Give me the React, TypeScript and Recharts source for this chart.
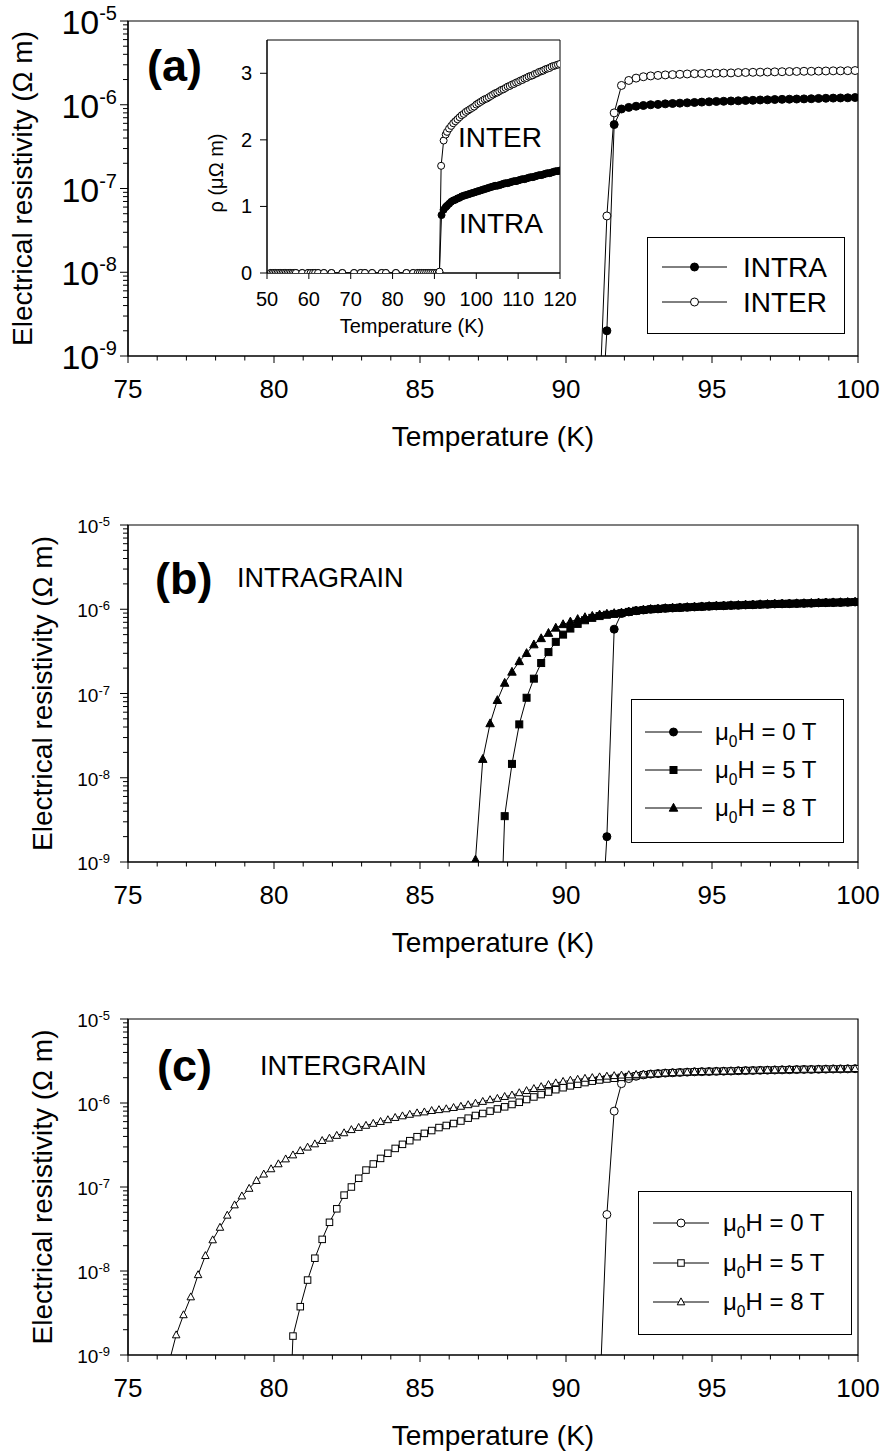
import type { ReactNode } from 'react';
import { Customized, Legend, Line, LineChart, ReferenceArea, XAxis, YAxis } from 'recharts';

const FONT = '"Liberation Sans", Arial, Helvetica, sans-serif';

// [temperature (K), resistivity (Ω m)]
// zero field (panel a; reused as the 0 T curves of b and c)
const INTRA_0T_RISE = [[91.15, 7e-11], [91.4, 2.0e-9], [91.65, 5.8e-7], [91.9, 8.9e-7], [92.15, 9.3e-7]];
const INTRA_TAIL = [
  [92.4, 9.6e-7], [92.65, 9.8e-7], [92.9, 1.0e-6], [93.15, 1.01e-6], [93.4, 1.025e-6], [93.65, 1.035e-6],
  [93.9, 1.045e-6], [94.15, 1.055e-6], [94.4, 1.065e-6], [94.65, 1.075e-6], [94.9, 1.085e-6], [95.15, 1.095e-6],
  [95.4, 1.1e-6], [95.65, 1.11e-6], [95.9, 1.115e-6], [96.15, 1.125e-6], [96.4, 1.13e-6], [96.65, 1.14e-6],
  [96.9, 1.145e-6], [97.15, 1.155e-6], [97.4, 1.16e-6], [97.65, 1.165e-6], [97.9, 1.17e-6], [98.15, 1.175e-6],
  [98.4, 1.18e-6], [98.65, 1.19e-6], [98.9, 1.195e-6], [99.15, 1.2e-6], [99.4, 1.205e-6], [99.65, 1.21e-6],
  [99.9, 1.22e-6],
];
const INTER_0T_RISE = [
  [91.15, 3e-10], [91.4, 4.7e-8], [91.65, 8.0e-7], [91.9, 1.7e-6], [92.15, 1.95e-6], [92.4, 2.08e-6], [92.65, 2.16e-6],
];
const INTER_TAIL = [
  [92.9, 2.21e-6], [93.15, 2.24e-6], [93.4, 2.27e-6], [93.65, 2.29e-6], [93.9, 2.31e-6], [94.15, 2.33e-6],
  [94.4, 2.35e-6], [94.65, 2.36e-6], [94.9, 2.37e-6], [95.15, 2.38e-6], [95.4, 2.39e-6], [95.65, 2.4e-6],
  [95.9, 2.42e-6], [96.15, 2.43e-6], [96.4, 2.44e-6], [96.65, 2.45e-6], [96.9, 2.46e-6], [97.15, 2.47e-6],
  [97.4, 2.48e-6], [97.65, 2.49e-6], [97.9, 2.5e-6], [98.15, 2.51e-6], [98.4, 2.51e-6], [98.65, 2.52e-6],
  [98.9, 2.53e-6], [99.15, 2.54e-6], [99.4, 2.54e-6], [99.65, 2.55e-6], [99.9, 2.56e-6],
];

// panel b, intragrain in field
const INTRA_5T_RISE = [
  [87.65, 1e-11], [87.9, 3.5e-9], [88.15, 1.46e-8], [88.4, 4.3e-8], [88.65, 8.9e-8], [88.9, 1.5e-7],
  [89.15, 2.3e-7], [89.4, 3.1e-7], [89.65, 4.1e-7], [89.9, 5.0e-7], [90.15, 5.9e-7], [90.4, 6.7e-7],
  [90.65, 7.4e-7], [90.9, 7.9e-7], [91.15, 8.3e-7], [91.4, 8.6e-7], [91.65, 8.8e-7], [91.9, 9.0e-7], [92.15, 9.3e-7],
];
const INTRA_8T_RISE = [
  [86.65, 1e-11], [86.9, 1.06e-9], [87.15, 1.66e-8], [87.4, 4.4e-8], [87.65, 8.3e-8], [87.9, 1.33e-7],
  [88.15, 1.8e-7], [88.4, 2.4e-7], [88.65, 3.0e-7], [88.9, 3.8e-7], [89.15, 4.5e-7], [89.4, 5.2e-7],
  [89.65, 6.0e-7], [89.9, 6.6e-7], [90.15, 7.1e-7], [90.4, 7.6e-7], [90.65, 8.0e-7], [90.9, 8.3e-7],
  [91.15, 8.6e-7], [91.4, 8.8e-7], [91.65, 8.95e-7], [91.9, 9.1e-7], [92.15, 9.35e-7],
];

// panel c, intergrain in field
const INTER_5T_RISE = [
  [80.4, 1e-11], [80.65, 1.68e-9], [80.9, 3.76e-9], [81.15, 7.8e-9], [81.4, 1.42e-8], [81.65, 2.38e-8],
  [81.9, 3.8e-8], [82.15, 5.5e-8], [82.4, 8.0e-8], [82.65, 1.0e-7], [82.9, 1.27e-7], [83.15, 1.59e-7],
  [83.4, 1.88e-7], [83.65, 2.19e-7], [83.9, 2.52e-7], [84.15, 2.88e-7], [84.4, 3.22e-7], [84.65, 3.56e-7],
  [84.9, 3.97e-7], [85.15, 4.35e-7], [85.4, 4.7e-7], [85.65, 5.1e-7], [85.9, 5.4e-7], [86.15, 5.7e-7],
  [86.4, 6.1e-7], [86.65, 6.6e-7], [86.9, 7.1e-7], [87.15, 7.5e-7], [87.4, 8.0e-7], [87.65, 8.5e-7],
  [87.9, 9.0e-7], [88.15, 9.6e-7], [88.4, 1.02e-6], [88.65, 1.1e-6], [88.9, 1.18e-6], [89.15, 1.26e-6],
  [89.4, 1.35e-6], [89.65, 1.44e-6], [89.9, 1.52e-6], [90.15, 1.6e-6], [90.4, 1.67e-6], [90.65, 1.75e-6],
  [90.9, 1.82e-6], [91.15, 1.88e-6], [91.4, 1.93e-6], [91.65, 1.97e-6], [91.9, 2.02e-6], [92.15, 2.06e-6],
  [92.4, 2.11e-6], [92.65, 2.17e-6],
];
const INTER_8T_RISE = [
  [76.4, 8e-10], [76.65, 1.73e-9], [76.9, 3.0e-9], [77.15, 4.9e-9], [77.4, 9.0e-9], [77.65, 1.52e-8],
  [77.9, 2.34e-8], [78.15, 3.3e-8], [78.4, 4.6e-8], [78.65, 6.1e-8], [78.9, 7.8e-8], [79.15, 9.6e-8],
  [79.4, 1.19e-7], [79.65, 1.42e-7], [79.9, 1.64e-7], [80.15, 1.88e-7], [80.4, 2.15e-7], [80.65, 2.4e-7],
  [80.9, 2.7e-7], [81.15, 2.97e-7], [81.4, 3.25e-7], [81.65, 3.56e-7], [81.9, 3.8e-7], [82.15, 4.1e-7],
  [82.4, 4.4e-7], [82.65, 4.8e-7], [82.9, 5.1e-7], [83.15, 5.4e-7], [83.4, 5.7e-7], [83.65, 6.0e-7],
  [83.9, 6.3e-7], [84.15, 6.7e-7], [84.4, 7.0e-7], [84.65, 7.3e-7], [84.9, 7.6e-7], [85.15, 7.8e-7],
  [85.4, 8.1e-7], [85.65, 8.3e-7], [85.9, 8.5e-7], [86.15, 8.8e-7], [86.4, 9.1e-7], [86.65, 9.5e-7],
  [86.9, 9.9e-7], [87.15, 1.04e-6], [87.4, 1.09e-6], [87.65, 1.13e-6], [87.9, 1.19e-6], [88.15, 1.24e-6],
  [88.4, 1.32e-6], [88.65, 1.4e-6], [88.9, 1.48e-6], [89.15, 1.56e-6], [89.4, 1.65e-6], [89.65, 1.73e-6],
  [89.9, 1.8e-6], [90.15, 1.86e-6], [90.4, 1.91e-6], [90.65, 1.96e-6], [90.9, 2.0e-6], [91.15, 2.04e-6],
  [91.4, 2.08e-6], [91.65, 2.11e-6], [91.9, 2.14e-6], [92.15, 2.16e-6], [92.4, 2.18e-6], [92.65, 2.2e-6],
];

// inset, linear: [temperature (K), resistivity (μΩ m)]
const INSET_BASELINE = [
  [50.9, 0], [51.3, 0], [51.7, 0], [52.1, 0], [52.5, 0], [52.9, 0], [53.3, 0], [53.7, 0], [54.1, 0], [54.5, 0],
  [54.9, 0], [55.3, 0], [55.7, 0], [56.1, 0], [56.5, 0], [56.9, 0], [58.4, 0], [59.8, 0], [60.4, 0], [61.0, 0],
  [61.5, 0], [62.2, 0], [63.6, 0], [65.4, 0], [68.0, 0], [70.8, 0], [72.4, 0], [73.4, 0], [75.1, 0], [77.4, 0],
  [78.4, 0], [80.8, 0], [83.3, 0], [84.9, 0], [86.0, 0], [86.5, 0], [87.0, 0], [87.5, 0], [88.0, 0], [88.5, 0],
  [89.0, 0], [89.5, 0], [90.0, 0], [90.5, 0], [91.0, 0],
];
const INSET_INTRA_RISE = [
  [91.2, 0.01], [91.7, 0.87], [92.2, 0.95], [92.7, 0.99], [93.0, 1.01], [93.5, 1.04], [94.0, 1.07], [94.5, 1.09],
  [95.0, 1.1], [95.5, 1.12], [96.0, 1.13], [96.5, 1.15], [97.0, 1.16], [97.5, 1.17], [98.0, 1.18], [98.5, 1.19],
  [99.0, 1.2], [99.5, 1.21], [100.0, 1.22], [100.5, 1.23], [101.0, 1.24], [101.5, 1.25], [102.0, 1.26],
  [102.5, 1.27], [103.0, 1.28], [103.5, 1.29], [104.0, 1.3], [104.5, 1.31], [105.0, 1.31], [105.5, 1.32],
  [106.0, 1.33], [106.5, 1.34], [107.0, 1.35], [107.5, 1.35], [108.0, 1.36], [108.5, 1.37], [109.0, 1.38],
  [109.5, 1.38], [110.0, 1.39], [110.5, 1.4], [111.0, 1.41], [111.5, 1.41], [112.0, 1.42], [112.5, 1.43],
  [113.0, 1.44], [113.5, 1.44], [114.0, 1.45], [114.5, 1.46], [115.0, 1.47], [115.5, 1.47], [116.0, 1.48],
  [116.5, 1.49], [117.0, 1.5], [117.5, 1.5], [118.0, 1.51], [118.5, 1.52], [119.0, 1.53], [119.5, 1.53],
  [120.0, 1.54],
];
const INSET_INTER_RISE = [
  [91.2, 0.02], [91.6, 1.61], [92.2, 1.99], [92.7, 2.08], [93.0, 2.12], [93.5, 2.17], [94.0, 2.21], [94.5, 2.25],
  [95.0, 2.28], [95.5, 2.31], [96.0, 2.34], [96.5, 2.37], [97.0, 2.39], [97.5, 2.42], [98.0, 2.44], [98.5, 2.46],
  [99.0, 2.48], [99.5, 2.5], [100.0, 2.53], [100.5, 2.55], [101.0, 2.57], [101.5, 2.59], [102.0, 2.61],
  [102.5, 2.62], [103.0, 2.64], [103.5, 2.66], [104.0, 2.68], [104.5, 2.7], [105.0, 2.71], [105.5, 2.73],
  [106.0, 2.75], [106.5, 2.76], [107.0, 2.78], [107.5, 2.8], [108.0, 2.81], [108.5, 2.83], [109.0, 2.84],
  [109.5, 2.86], [110.0, 2.87], [110.5, 2.89], [111.0, 2.9], [111.5, 2.92], [112.0, 2.93], [112.5, 2.95],
  [113.0, 2.96], [113.5, 2.97], [114.0, 2.99], [114.5, 3.0], [115.0, 3.02], [115.5, 3.03], [116.0, 3.04],
  [116.5, 3.06], [117.0, 3.07], [117.5, 3.08], [118.0, 3.1], [118.5, 3.11], [119.0, 3.12], [119.5, 3.13],
  [120.0, 3.14],
];

// axes
const X_TICKS = [75, 76, 77, 78, 79, 80, 81, 82, 83, 84, 85, 86, 87, 88, 89, 90, 91, 92, 93, 94, 95, 96, 97, 98, 99, 100];
const X_LABELS = [75, 80, 85, 90, 95, 100];
const Y_MAJOR = [1e-9, 1e-8, 1e-7, 1e-6, 1e-5];
const Y_MINOR = [
  2e-9, 3e-9, 4e-9, 5e-9, 6e-9, 7e-9, 8e-9, 9e-9, 2e-8, 3e-8, 4e-8, 5e-8, 6e-8, 7e-8, 8e-8, 9e-8,
  2e-7, 3e-7, 4e-7, 5e-7, 6e-7, 7e-7, 8e-7, 9e-7, 2e-6, 3e-6, 4e-6, 5e-6, 6e-6, 7e-6, 8e-6, 9e-6,
];
const INSET_X_TICKS = [50, 60, 70, 80, 90, 100, 110, 120];
const INSET_Y_TICKS = [0, 1, 2, 3];

type Row = { t: number; r: number };
const toRows = (...parts: number[][][]): Row[] => parts.flat().map(([t, r]) => ({ t, r }));

type Shape = 'circle' | 'square' | 'triangle';
type Series = { name: string; rows: Row[]; shape: Shape; filled: boolean; size: number };

function Marker({ cx, cy, shape, filled, size }: { cx: number; cy: number; shape: Shape; filled: boolean; size: number }) {
  const paint = { fill: filled ? '#000' : '#fff', stroke: '#000', strokeWidth: 1 };
  const h = size / 2;
  if (shape === 'square') return <rect x={cx - h} y={cy - h} width={size} height={size} {...paint} />;
  if (shape === 'triangle')
    return <polygon points={`${cx},${cy - h * 1.1} ${cx - h},${cy + h * 0.75} ${cx + h},${cy + h * 0.75}`} {...paint} />;
  return <circle cx={cx} cy={cy} r={h} {...paint} />;
}

const dotFor = (s: Series) => (p: any) => {
  if (p.cx == null || p.cy == null || !Number.isFinite(p.cy)) return <g key={p.index} />;
  return <Marker key={p.index} cx={p.cx} cy={p.cy} shape={s.shape} filled={s.filled} size={s.size} />;
};

function XTick({ x, y, payload }: any) {
  const major = X_LABELS.includes(payload.value);
  return (
    <g>
      <line x1={x} x2={x} y1={y} y2={y + (major ? 7 : 4.5)} stroke="#000" />
      {major && (
        <text x={x} y={y + 42} textAnchor="middle" fontSize={26} fontFamily={FONT} fill="#000">
          {payload.value}
        </text>
      )}
    </g>
  );
}

function YLogTick({ x, y, payload, big }: any) {
  const v = payload.value;
  const major = Y_MAJOR.includes(v);
  const exp = Math.round(Math.log10(v));
  return (
    <g>
      <line x1={x - (major ? 8 : 5)} x2={x} y1={y} y2={y} stroke="#000" />
      {major && (
        <text x={x - (big ? 11 : 18)} y={y + (big ? 13 : 8)} textAnchor="end" fontFamily={FONT} fill="#000">
          <tspan fontSize={big ? 34 : 19}>10</tspan>
          <tspan fontSize={big ? 20 : 13} dy={big ? -14 : -7}>{`-${Math.abs(exp)}`}</tspan>
        </text>
      )}
    </g>
  );
}

type LegendLayout = {
  left: number; top: number; w: number; h: number;
  rows: number[]; line: [number, number]; textX: number; font: number; baseline: number; field: boolean;
};

function LegendBox({ box, series }: { box: LegendLayout; series: Series[] }) {
  const mx = (box.line[0] + box.line[1]) / 2;
  return (
    <svg width={box.w + 1} height={box.h + 1} style={{ display: 'block' }}>
      <rect x={0.5} y={0.5} width={box.w} height={box.h} fill="#fff" stroke="#000" />
      {series.map((s, i) => {
        const y = box.rows[i];
        return (
          <g key={s.name}>
            <line x1={box.line[0]} x2={box.line[1]} y1={y} y2={y} stroke="#000" />
            <Marker cx={mx} cy={y} shape={s.shape} filled={s.filled} size={s.size} />
            <text x={box.textX} y={y + box.baseline} fontSize={box.font} fontFamily={FONT} fill="#000">
              {box.field ? (
                <>
                  μ<tspan fontSize={box.font * 0.65} dy={7}>0</tspan>
                  <tspan dy={-7}>H = {s.name}</tspan>
                </>
              ) : (
                s.name
              )}
            </text>
          </g>
        );
      })}
    </svg>
  );
}

type PanelProps = {
  top: number; height: number; plotTop: number; plotBottom: number; big: boolean;
  series: Series[]; legend: LegendLayout; yTitleX: number; notes: ReactNode;
};

function LogPanel({ top, height, plotTop, plotBottom, big, series, legend, yTitleX, notes }: PanelProps) {
  const midY = (plotTop + plotBottom) / 2;
  return (
    <div style={{ position: 'absolute', left: 0, top }}>
      <LineChart width={883} height={height} margin={{ top: plotTop - top, right: 25, bottom: 0, left: 0 }}>
        <XAxis
          dataKey="t" type="number" domain={[75, 100]} allowDataOverflow ticks={X_TICKS} interval={0}
          height={top + height - plotBottom} tickSize={0} tickMargin={0} tickLine={false}
          axisLine={{ stroke: '#000', strokeWidth: 1.2 }} tick={(p: any) => <XTick {...p} />}
        />
        <YAxis
          dataKey="r" type="number" scale="log" domain={[1e-9, 1e-5]} allowDataOverflow
          ticks={[...Y_MAJOR, ...Y_MINOR]} interval={0} width={128} tickSize={0} tickMargin={0} tickLine={false}
          axisLine={{ stroke: '#000', strokeWidth: 1.2 }} tick={(p: any) => <YLogTick {...p} big={big} />}
        />
        <ReferenceArea x1={75} x2={100} y1={1e-9} y2={1e-5} fill="none" stroke="#000" strokeWidth={1.2} />
        {series.map((s) => (
          <Line
            key={s.name} name={s.name} data={s.rows} dataKey="r" type="linear" stroke="#000" strokeWidth={1}
            dot={dotFor(s)} activeDot={false} isAnimationActive={false}
          />
        ))}
        <Legend
          layout="horizontal" verticalAlign="middle" align="center"
          wrapperStyle={{ left: legend.left, top: legend.top - top, width: legend.w + 1, height: legend.h + 1 }}
          content={() => <LegendBox box={legend} series={series} />}
        />
        <Customized
          component={
            <g transform={`translate(0, ${-top})`} fontFamily={FONT} fill="#000">
              <text transform={`translate(${yTitleX}, ${midY}) rotate(-90)`} textAnchor="middle" fontSize={28}>
                Electrical resistivity (Ω m)
              </text>
              <text x={493} y={plotBottom + 90} textAnchor="middle" fontSize={28}>
                Temperature (K)
              </text>
              {notes}
            </g>
          }
        />
      </LineChart>
    </div>
  );
}

function InsetXTick({ x, y, payload }: any) {
  return (
    <g>
      <line x1={x} x2={x} y1={y} y2={y + 6} stroke="#000" />
      <text x={x} y={y + 33} textAnchor="middle" fontSize={20} fontFamily={FONT} fill="#000">{payload.value}</text>
    </g>
  );
}

function InsetYTick({ x, y, payload }: any) {
  return (
    <g>
      <line x1={x - 7} x2={x} y1={y} y2={y} stroke="#000" />
      <text x={x - 15} y={y + 7} textAnchor="end" fontSize={20} fontFamily={FONT} fill="#000">{payload.value}</text>
    </g>
  );
}

function Inset() {
  const left = 200;
  const top = 25;
  const inset: Series[] = [
    { name: 'INTRA', rows: toRows(INSET_BASELINE, INSET_INTRA_RISE), shape: 'circle', filled: true, size: 7 },
    { name: 'INTER', rows: toRows(INSET_BASELINE, INSET_INTER_RISE), shape: 'circle', filled: false, size: 7 },
  ];
  return (
    <div style={{ position: 'absolute', left, top }}>
      <LineChart width={380} height={330} margin={{ top: 15, right: 20, bottom: 0, left: 0 }}>
        <XAxis
          dataKey="t" type="number" domain={[50, 120]} allowDataOverflow ticks={INSET_X_TICKS} interval={0}
          height={82} tickSize={0} tickMargin={0} tickLine={false} axisLine={{ stroke: '#000' }}
          tick={(p: any) => <InsetXTick {...p} />}
        />
        <YAxis
          dataKey="r" type="number" domain={[0, 3.5]} allowDataOverflow ticks={INSET_Y_TICKS} interval={0}
          width={67} tickSize={0} tickMargin={0} tickLine={false} axisLine={{ stroke: '#000' }}
          tick={(p: any) => <InsetYTick {...p} />}
        />
        <ReferenceArea x1={50} x2={120} y1={0} y2={3.5} fill="none" stroke="#000" />
        {inset.map((s) => (
          <Line
            key={s.name} name={s.name} data={s.rows} dataKey="r" type="linear" stroke="#000" strokeWidth={1}
            dot={dotFor(s)} activeDot={false} isAnimationActive={false}
          />
        ))}
        <Customized
          component={
            <g transform={`translate(${-left}, ${-top})`} fontFamily={FONT} fill="#000">
              <text transform="translate(223, 173) rotate(-90)" textAnchor="middle" fontSize={20}>ρ (μΩ m)</text>
              <text x={412} y={333} textAnchor="middle" fontSize={20}>Temperature (K)</text>
              <text x={458} y={147} fontSize={28}>INTER</text>
              <text x={459} y={233} fontSize={28}>INTRA</text>
            </g>
          }
        />
      </LineChart>
    </div>
  );
}

export default function App() {
  const panelA: Series[] = [
    { name: 'INTRA', rows: toRows(INTRA_0T_RISE, INTRA_TAIL), shape: 'circle', filled: true, size: 8 },
    { name: 'INTER', rows: toRows(INTER_0T_RISE, INTER_TAIL), shape: 'circle', filled: false, size: 8 },
  ];
  const panelB: Series[] = [
    { name: '0 T', rows: toRows(INTRA_0T_RISE, INTRA_TAIL), shape: 'circle', filled: true, size: 8 },
    { name: '5 T', rows: toRows(INTRA_5T_RISE, INTRA_TAIL), shape: 'square', filled: true, size: 7 },
    { name: '8 T', rows: toRows(INTRA_8T_RISE, INTRA_TAIL), shape: 'triangle', filled: true, size: 8.5 },
  ];
  const panelC: Series[] = [
    { name: '0 T', rows: toRows(INTER_0T_RISE, INTER_TAIL), shape: 'circle', filled: false, size: 8 },
    { name: '5 T', rows: toRows(INTER_5T_RISE, INTER_TAIL), shape: 'square', filled: false, size: 6.5 },
    { name: '8 T', rows: toRows(INTER_8T_RISE, INTER_TAIL), shape: 'triangle', filled: false, size: 7.5 },
  ];

  return (
    <div style={{ position: 'absolute', left: 0, top: 0, width: 883, height: 1454, background: '#fff' }}>
      <LogPanel
        top={0} height={460} plotTop={21} plotBottom={356} big series={panelA} yTitleX={32}
        legend={{ left: 647, top: 237, w: 197, h: 96, rows: [30, 65], line: [15, 80], textX: 96, font: 28, baseline: 10, field: false }}
        notes={<text x={147} y={81} fontSize={45} fontWeight="bold">(a)</text>}
      />
      <LogPanel
        top={470} height={490} plotTop={525} plotBottom={862} big={false} series={panelB} yTitleX={52}
        legend={{ left: 631, top: 699, w: 212, h: 143, rows: [33, 71, 109], line: [14, 71], textX: 84, font: 24, baseline: 8, field: true }}
        notes={
          <>
            <text x={155} y={594} fontSize={45} fontWeight="bold">(b)</text>
            <text x={237} y={587} fontSize={27}>INTRAGRAIN</text>
          </>
        }
      />
      <LogPanel
        top={965} height={489} plotTop={1019} plotBottom={1355} big={false} series={panelC} yTitleX={52}
        legend={{ left: 638, top: 1191, w: 213, h: 143, rows: [32, 72, 111], line: [15, 71], textX: 85, font: 24, baseline: 8, field: true }}
        notes={
          <>
            <text x={157} y={1081} fontSize={45} fontWeight="bold">(c)</text>
            <text x={260} y={1075} fontSize={27}>INTERGRAIN</text>
          </>
        }
      />
      <Inset />
    </div>
  );
}
